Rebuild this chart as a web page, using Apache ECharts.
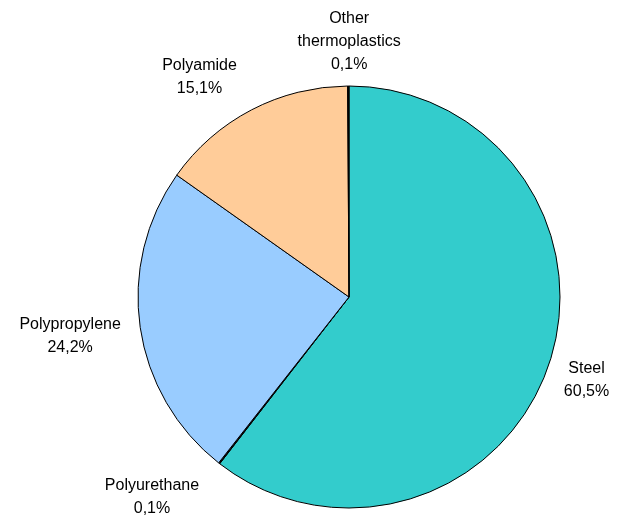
<!DOCTYPE html>
<html>
<head>
<meta charset="utf-8">
<script src="https://cdn.jsdelivr.net/npm/echarts@6/dist/echarts.min.js"></script>
<style>
    html, body { margin: 0; padding: 0; background: #ffffff; }
    #chart { width: 617px; height: 515px; }
</style>
</head>
<body>
<div id="chart"></div>
<script>
// materials, clockwise from 12 o'clock
const materials = ["Steel", "Polyurethane", "Polypropylene", "Polyamide", "Other thermoplastics"];
const shares = [60.5, 0.1, 24.2, 15.1, 0.1];
const sliceColors = ["#33CCCC", "#000000", "#99CCFF", "#FFCC99", "#000000"];

const center = [349, 297];
const radius = 211;

// small nudges so the labels sit where Excel put them
const labelNudge = [
    [7, 4],
    [-32, 8],
    [-10, 4],
    [-30, -4],
    [1, 0]
];

const chart = echarts.init(document.getElementById("chart"));

const option = {
    animation: false,
    series: [
        {
            type: "pie",
            center: center,
            radius: radius,
            startAngle: 90,
            clockwise: true,
            avoidLabelOverlap: false,
            minShowLabelAngle: 0,
            data: materials.map((name, i) => ({
                name: name,
                value: shares[i],
                itemStyle: { color: sliceColors[i] }
            })),
            itemStyle: {
                borderColor: "#000000",
                borderWidth: 1
            },
            emphasis: { disabled: true },
            label: {
                show: true,
                position: "outside",
                color: "#000000",
                fontFamily: "Liberation Sans, Arial, sans-serif",
                fontSize: 16,
                lineHeight: 23,
                align: "center",
                formatter: (p) =>
                    p.name.replace(" ", "\n") + "\n" +
                    p.value.toFixed(1).replace(".", ",") + "%"
            },
            labelLine: { show: false, length: 0, length2: 0 },
            labelLayout: (params) => {
                const pts = params.labelLinePoints;
                if (!pts) return {};
                const p = pts[0];
                let ux = p[0] - center[0];
                let uy = p[1] - center[1];
                const d = Math.sqrt(ux * ux + uy * uy) || 1;
                ux /= d;
                uy /= d;
                const w = params.labelRect.width;
                const h = params.labelRect.height;
                const gap = 10;
                const n = labelNudge[params.dataIndex] || [0, 0];
                return {
                    x: center[0] + ux * (radius + gap) + ux * w / 2 + n[0],
                    y: center[1] + uy * (radius + gap) + uy * h / 2 + n[1],
                    align: "center",
                    verticalAlign: "middle"
                };
            }
        }
    ]
};

chart.setOption(option);
</script>
</body>
</html>
